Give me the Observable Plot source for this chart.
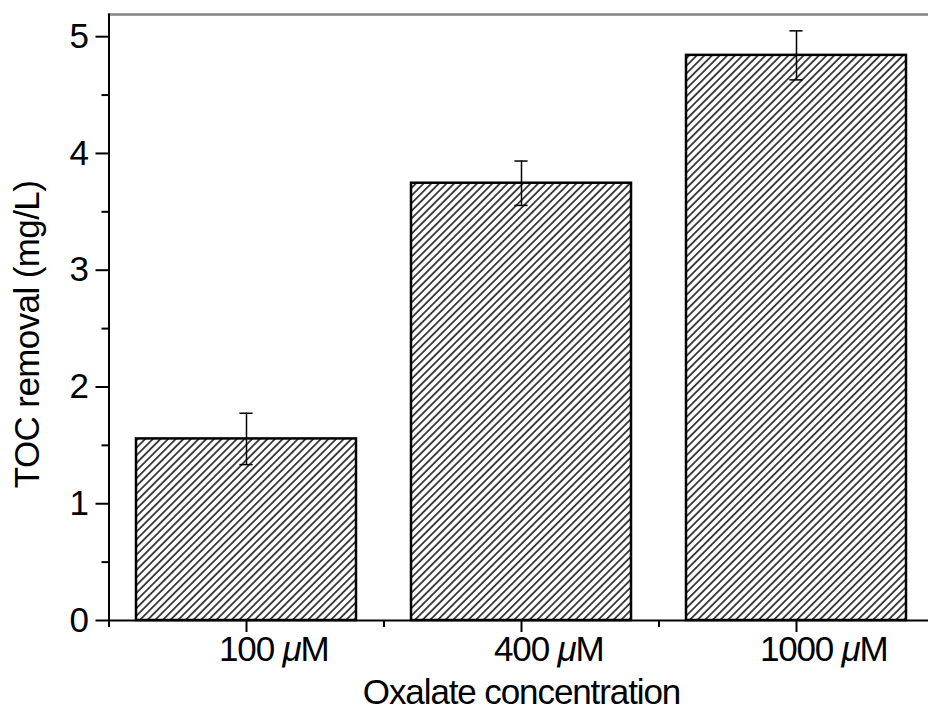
<!DOCTYPE html>
<html><head><meta charset="utf-8">
<script src="https://cdn.jsdelivr.net/npm/d3@7"></script>
<script src="https://cdn.jsdelivr.net/npm/@observablehq/plot@0.6"></script>
<style>
body{margin:0;background:#fff;overflow:hidden}
#chart svg{font-family:"Liberation Sans", Arial, sans-serif;background:#fff}
</style>
</head><body><div id="chart"></div>
<script>
const categories = ["100 μM", "400 μM", "1000 μM"];
const tocRemoval = [1.555, 3.745, 4.84];
const tocError = [0.22, 0.19, 0.21];
const yMajorTicks = [0, 1, 2, 3, 4, 5];
const yMinorTicks = [0.5, 1.5, 2.5, 3.5, 4.5];
const xTitle = "Oxalate concentration";
const yTitle = "TOC removal (mg/L)";

const data = categories.map((c, i) => ({
  cat: c, pos: i + 1, val: tocRemoval[i],
  lo: tocRemoval[i] - tocError[i], hi: tocRemoval[i] + tocError[i]
}));
const xMajor = data.map(d => d.pos);
const xMinor = [xMajor[0] - 0.5, ...xMajor.map(p => p + 0.5)];

function hatchDefs() {
  const ns = "http://www.w3.org/2000/svg";
  const defs = document.createElementNS(ns, "defs");
  const p = document.createElementNS(ns, "pattern");
  const s = 5.4;
  p.setAttribute("id", "hatch");
  p.setAttribute("patternUnits", "userSpaceOnUse");
  p.setAttribute("width", s);
  p.setAttribute("height", s);
  p.setAttribute("patternTransform", "rotate(45)");
  const r = document.createElementNS(ns, "rect");
  r.setAttribute("width", s); r.setAttribute("height", s); r.setAttribute("fill", "white");
  const l = document.createElementNS(ns, "line");
  l.setAttribute("x1", s / 2); l.setAttribute("x2", s / 2);
  l.setAttribute("y1", -1); l.setAttribute("y2", s + 1);
  l.setAttribute("stroke", "black"); l.setAttribute("stroke-width", 1.4);
  p.appendChild(r); p.appendChild(l); defs.appendChild(p);
  return defs;
}

const chart = Plot.plot({
  width: 928,
  height: 713,
  marginLeft: 108.5,
  marginRight: -5.5,
  marginTop: 14,
  marginBottom: 93,
  x: {domain: [0.5, 3.5]},
  y: {domain: [0, 5.19]},
  marks: [
    hatchDefs,
    Plot.rectY(data, {x1: d => d.pos - 0.4, x2: d => d.pos + 0.4, y1: 0, y2: "val",
      fill: "url(#hatch)", stroke: "black", strokeWidth: 2.5}),
    Plot.ruleX(data, {x: "pos", y1: "lo", y2: "hi", stroke: "black", strokeWidth: 1.5}),
    Plot.ruleY(data, {x1: d => d.pos - 0.024, x2: d => d.pos + 0.024, y: "hi", stroke: "black", strokeWidth: 1.5}),
    Plot.ruleY(data, {x1: d => d.pos - 0.024, x2: d => d.pos + 0.024, y: "lo", stroke: "black", strokeWidth: 1.5}),
    Plot.frame({anchor: "top", stroke: "#808080", strokeWidth: 2.5}),
    Plot.frame({anchor: "left", stroke: "black", strokeWidth: 2}),
    Plot.frame({anchor: "bottom", stroke: "black", strokeWidth: 2}),
    Plot.axisY({ticks: yMajorTicks, tickFormat: d3.format("d"), tickSize: 13, tickPadding: 7, fontSize: 35, strokeWidth: 2, label: null}),
    Plot.axisY({ticks: yMinorTicks, tickSize: 7, text: null, strokeWidth: 2, label: null}),
    Plot.axisX({ticks: xMajor, tickFormat: p => categories[p - 1], tickSize: 12, tickPadding: 4, fontSize: 35, strokeWidth: 2, label: null}),
    Plot.axisX({ticks: xMinor, tickSize: 7, text: null, strokeWidth: 2, label: null}),
    Plot.text([xTitle], {text: d => d, frameAnchor: "bottom", textAnchor: "middle", lineAnchor: "bottom", dy: 83, fontSize: 35, fill: "black"}),
    Plot.text([yTitle], {text: d => d, frameAnchor: "left", textAnchor: "middle", rotate: -90, lineAnchor: "bottom", dx: -70, dy: 17, fontSize: 35, fill: "black"})
  ]
});

document.getElementById("chart").appendChild(chart);

// italic μ, number centred on its tick (unit hangs to the right)
chart.querySelectorAll('g[aria-label="x-axis tick label"] text').forEach(t => {
  const s = t.textContent;
  const k = s.indexOf("μ");
  if (k < 0) return;
  t.setAttribute("letter-spacing", "-1.2");
  t.textContent = "";
  t.appendChild(document.createTextNode(s.slice(0, k)));
  const ts = document.createElementNS("http://www.w3.org/2000/svg", "tspan");
  ts.setAttribute("font-style", "italic");
  ts.textContent = "μ";
  t.appendChild(ts);
  t.appendChild(document.createTextNode(s.slice(k + 1)));
  const numLen = s.slice(0, k).trimEnd().length;
  const w = t.getSubStringLength(0, numLen);
  t.setAttribute("text-anchor", "start");
  t.setAttribute("x", -w / 2);
});
chart.querySelectorAll('g[aria-label="text"] text').forEach(t => {
  if (t.textContent === xTitle) t.setAttribute("letter-spacing", "-1.1");
  if (t.textContent === yTitle) t.setAttribute("letter-spacing", "-0.6");
});
</script>
</body></html>
